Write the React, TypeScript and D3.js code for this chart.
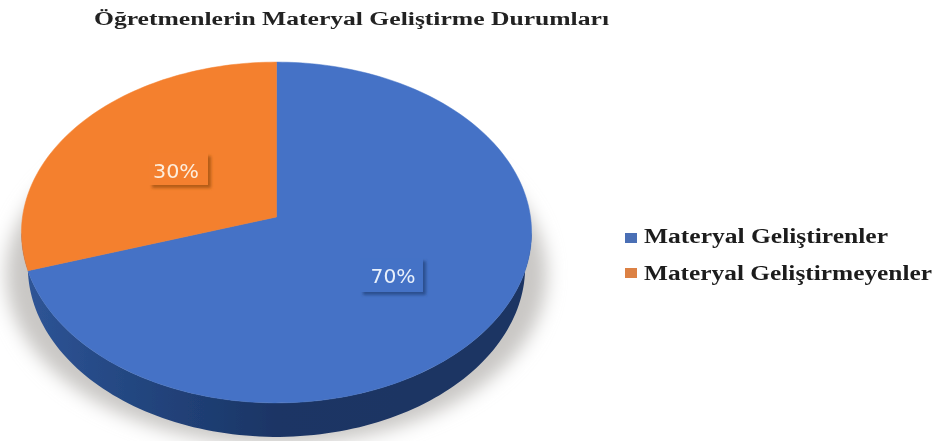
import React from "react";
import * as d3 from "d3";

const title = "Öğretmenlerin Materyal Geliştirme Durumları";
const categories = ["Materyal Geliştirenler", "Materyal Geliştirmeyenler"];
const values = [70, 30];
const labels = ["70%", "30%"];
const colors = ["#4472c6", "#f4802f"];

const W = 936, H = 441;
const cx = 276.5, tipY = 217, rx = 254, ryK = 169, persp = 0.0909, depth = 34, baseScale = 0.975;

function project(a: number, r = 1, dy = 0, sx = 1): [number, number] {
  const u = r * Math.sin(a), v = r * Math.cos(a);
  const s = 1 + persp * v;
  return [cx + (sx * rx * u) / s, tipY + dy - (ryK * v) / s];
}
const line = d3.line();
const rim = (a0: number, a1: number, dy = 0, sx = 1) => {
  const n = Math.max(2, Math.ceil(Math.abs(a1 - a0) * 40));
  return d3.range(n + 1).map((i) => project(a0 + ((a1 - a0) * i) / n, 1, dy, sx));
};

export default function App() {
  const arcs = d3.pie<number>().sort(null)(values);
  const sideL = rim(Math.PI / 2 + 0.09, 1.5 * Math.PI - 0.09);
  const sideB = rim(1.5 * Math.PI - 0.09, Math.PI / 2 + 0.09, depth, baseScale);
  const sidePath = line([...sideL, ...sideB]) + "Z";
  const shadowPath = line(rim(0, 2 * Math.PI, 42, 1.06)) + "Z";
  const labelBoxes = [
    { x: 360, y: 258, w: 63, h: 34, tx: 393, ty: 283, tw: 45 },
    { x: 149, y: 153, w: 59, h: 32, tx: 176, ty: 178, tw: 46 },
  ];
  const legendY = [243, 278];
  const legendTextY = [243, 280];
  return (
    <svg width={W} height={H} style={{ position: "absolute", left: 0, top: 0, background: "#fff" }}>
      <defs>
        <filter id="sh" x="-20%" y="-20%" width="140%" height="140%"><feGaussianBlur stdDeviation="9" /></filter>
        <filter id="soft" x="-5%" y="-5%" width="110%" height="110%"><feGaussianBlur stdDeviation="0.7" /></filter>
        <filter id="txt" x="-5%" y="-30%" width="110%" height="160%"><feGaussianBlur stdDeviation="0.45" /></filter>
        <filter id="lb" x="-30%" y="-30%" width="160%" height="160%"><feGaussianBlur stdDeviation="1.8" /></filter>
        <linearGradient id="side" x1="0" x2="1" y1="0" y2="0">
          <stop offset="0" stopColor="#2f5597" />
          <stop offset="0.22" stopColor="#234680" />
          <stop offset="0.5" stopColor="#1b3565" />
          <stop offset="1" stopColor="#1b3463" />
        </linearGradient>
      </defs>
      <path d={shadowPath} fill="#c9c7c5" filter="url(#sh)" />
      <g filter="url(#soft)">
        <path d={sidePath} fill="url(#side)" />
        {arcs.map((d, i) => (
          <path
            key={i}
            d={line([[cx, tipY], ...rim(d.startAngle, d.endAngle)]) + "Z"}
            fill={colors[i]}
            stroke={colors[i]}
            strokeWidth={0.5}
          />
        ))}
      </g>
      {arcs.map((d, i) => {
        const b = labelBoxes[i];
        const dark = i === 0 ? "#2c4f8f" : "#b25c16";
        return (
          <g key={i}>
            <rect x={b.x + 3} y={b.y + 3} width={b.w} height={b.h} fill={dark} filter="url(#lb)" />
            <rect x={b.x} y={b.y} width={b.w} height={b.h} fill={colors[i]} />
            <text x={b.tx} y={b.ty} textAnchor="middle" fontFamily="'DejaVu Sans', sans-serif" fontSize={19} textLength={b.tw} lengthAdjust="spacingAndGlyphs" fill={i === 0 ? "#e8f0fb" : "#fdeedd"} filter="url(#txt)">
              {labels[i]}
            </text>
          </g>
        );
      })}
      <text x={94} y={25} fontFamily="'Liberation Serif', serif" fontWeight="bold" fontSize={18} textLength={515} lengthAdjust="spacingAndGlyphs" fill="#222" filter="url(#txt)">
        {title}
      </text>
      {categories.map((c, i) => (
        <g key={c}>
          <rect x={625} y={legendY[i] - 10} width={12} height={10} fill={i === 0 ? "#4a6fb5" : "#dc8144"} />
          <text x={644} y={legendTextY[i]} fontFamily="'Liberation Serif', serif" fontWeight="bold" fontSize={20} textLength={i === 0 ? 244 : 288} lengthAdjust="spacingAndGlyphs" fill="#1c1c1c" filter="url(#txt)">
            {c}
          </text>
        </g>
      ))}
    </svg>
  );
}
